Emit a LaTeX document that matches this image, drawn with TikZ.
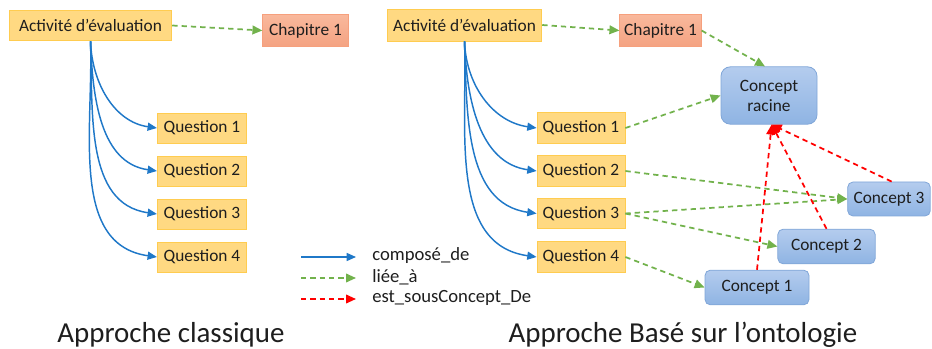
\documentclass[tikz,border=0pt]{standalone}
\usepackage{fontspec}
\setmainfont{Carlito}
\usetikzlibrary{arrows.meta}
\definecolor{qfill}{RGB}{255,217,130}
\definecolor{qline}{RGB}{255,204,80}
\definecolor{chtop}{RGB}{249,184,156}
\definecolor{chbot}{RGB}{244,163,130}
\definecolor{chline}{RGB}{246,160,125}
\definecolor{cotop}{RGB}{180,204,238}
\definecolor{cobot}{RGB}{143,180,227}
\definecolor{coline}{RGB}{128,166,216}
\definecolor{compblue}{RGB}{31,120,200}
\definecolor{liegreen}{RGB}{114,178,76}
\definecolor{txt}{RGB}{30,30,30}

\begin{document}
\begin{tikzpicture}[x=0.75pt,y=-0.75pt,
	every node/.style={text=txt},
	qbox/.style={draw=qline,fill=qfill,line width=0.6pt,inner sep=0pt,minimum height=23pt,font=\fontsize{13}{15}\selectfont},
	chbox/.style={draw=chline,top color=chtop,bottom color=chbot,line width=0.6pt,inner sep=0pt,minimum height=23.5pt,font=\fontsize{13}{15}\selectfont},
	cobox/.style={draw=coline,top color=cotop,bottom color=cobot,line width=0.6pt,rounded corners=4pt,inner sep=0pt,minimum height=26pt,font=\fontsize{13}{15}\selectfont},
	compose/.style={draw=compblue,line width=1.1pt,-{Triangle[length=7pt,width=6pt]}},
	liee/.style={draw=liegreen,line width=1.3pt,dash pattern=on 4pt off 3pt,-{Triangle[length=7.5pt,width=6.5pt]}},
	sous/.style={draw=red,line width=1.3pt,dash pattern=on 4pt off 3pt,-{Triangle[length=7.5pt,width=6.5pt]}},
	title/.style={anchor=base,font=\fontsize{21.7}{24}\selectfont}]
	\useasboundingbox (0,0) rectangle (932,349);

	% Approche classique
	\node[qbox,minimum width=122pt] (act) at (90.5,25.5) {Activité d’évaluation};
	\node[chbox,minimum width=64pt] (chap) at (305.5,30.5) {Chapitre 1};
	\foreach \i/\y in {1/128,2/171,3/214,4/257}
		\node[qbox,minimum width=67pt,minimum height=22.5pt] (q\i) at (202,\y) {Question \i};
	\draw[liee] (act.east) -- (chap.west);
	\foreach \i in {1,...,4}
		\draw[compose] (act.south) to[out=-88,in=172] (q\i.west);

	% Approche ontologie
	\node[qbox,minimum width=116pt,minimum height=24pt] (act2) at (464.5,25) {Activité d’évaluation};
	\node[chbox,minimum width=61pt] (chap2) at (660.5,30.5) {Chapitre 1};
	\foreach \i/\y in {1/128,2/171,3/213.5,4/257}
		\node[qbox,minimum width=66pt,minimum height=23pt] (qr\i) at (581,\y) {Question \i};
	\node[cobox,rounded corners=7pt,minimum width=72pt,minimum height=43pt,align=center] (racine) at (769,95.5) {Concept\\racine};
	\node[cobox,minimum width=62pt,minimum height=25.5pt] (c3) at (889,199) {Concept 3};
	\node[cobox,minimum width=73pt] (c2) at (826.5,246.5) {Concept 2};
	\node[cobox,minimum width=78pt] (c1) at (757,287.5) {Concept 1};

	\foreach \i in {1,...,4}
		\draw[compose] (act2.south) to[out=-88,in=172] (qr\i.west);
	\draw[liee] (act2.east) -- (chap2.west);
	\draw[liee] (chap2.east) -- ([xshift=-3pt]racine.north);
	\draw[liee] (qr1.east) -- (racine.west);
	\draw[liee] (qr2.east) -- (c3.west);
	\draw[liee] (qr3.east) -- (c3.west);
	\draw[liee] (qr3.east) -- (c2.west);
	\draw[liee] (qr4.east) -- (c1.west);
	\draw[sous] (c1.north) -- ([xshift=2pt]racine.south);
	\draw[sous] (c2.north) -- ([xshift=2pt]racine.south);
	\draw[sous] ([xshift=2pt]c3.north) -- ([xshift=2pt]racine.south);

	% legende
	\coordinate (la1) at (301,257); \coordinate (la2) at (356,257);
	\coordinate (lb1) at (301,278); \coordinate (lb2) at (356,278);
	\coordinate (lc1) at (301,299); \coordinate (lc2) at (356,299);
	\draw[compose] (la1) -- (la2);
	\draw[liee] (lb1) -- (lb2);
	\draw[sous] (lc1) -- (lc2);
	\node[anchor=west,inner sep=0pt,font=\fontsize{14}{16}\selectfont] (lta) at (372,256) {composé\_de};
	\node[anchor=west,inner sep=0pt,font=\fontsize{14}{16}\selectfont] (ltb) at (372,277) {liée\_à};
	\node[anchor=west,inner sep=0pt,font=\fontsize{14}{16}\selectfont] (ltc) at (372,298) {est\_sousConcept\_De};

	\node[title] (t1) at (171,342) {Approche classique};
	\node[title] (t2) at (683,342) {Approche Basé sur l’ontologie};
\end{tikzpicture}
\end{document}
